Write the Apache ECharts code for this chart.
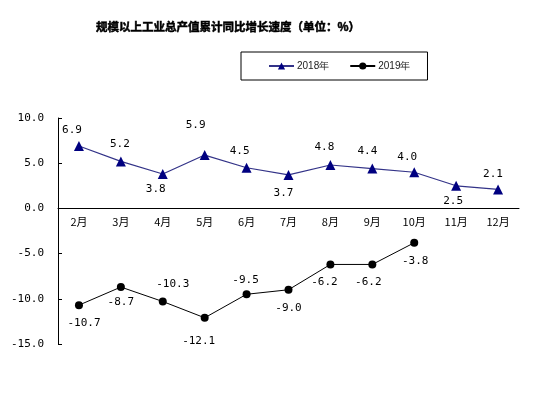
<!DOCTYPE html>
<html><head><meta charset="utf-8">
<script src="https://cdn.jsdelivr.net/npm/echarts@6/dist/echarts.min.js"></script>
<style>html,body{margin:0;padding:0;background:#fff}#c{width:544px;height:394px}</style>
</head><body><div id="c"></div>
<script>
const titleText = '规模以上工业总产值累计同比增长速度（单位：%）';
const categories = ['2月','3月','4月','5月','6月','7月','8月','9月','10月','11月','12月'];
const seriesNames = ['2018年','2019年'];
const values2018 = [6.9,5.2,3.8,5.9,4.5,3.7,4.8,4.4,4.0,2.5,2.1];
const values2019 = [-10.7,-8.7,-10.3,-12.1,-9.5,-9.0,-6.2,-6.2,-3.8];
const yMin = -15, yMax = 10, yStep = 5;

// layout only
const gridTop = 118, gridBottom = 50, chartH = 394;
const labelOffsets2018 = [[-7,-16],[-1,-17],[-7,15],[-9,-30],[-7,-17],[-5,18],[-6,-18],[-5,-17],[-7,-15],[-3,15],[-5,-15]];
const labelOffsets2019 = [[5,18],[0,15],[10,-17],[-6,23],[-1,-14],[0,18],[-6,18],[-4,18],[1,18]];

const gridH = chartH - gridTop - gridBottom;
const zeroFromBottom = (0 - yMin) / (yMax - yMin) * gridH;

const monoFont = 'DejaVu Sans Mono';
function mkData(vals, offs){
  return vals.map((v,i)=>({value:v,label:{show:true,position:'inside',offset:offs[i],formatter:v.toFixed(1),color:'#000',fontFamily:monoFont,fontSize:11}}));
}
const chart = echarts.init(document.getElementById('c'), null, {renderer:'canvas'});
chart.setOption({
  animation:false,
  backgroundColor:'#fff',
  title:{text:titleText,left:91,top:16,textStyle:{fontFamily:'Noto Sans CJK SC',fontWeight:'bold',fontSize:11.5,color:'#000',textBorderColor:'#000',textBorderWidth:0.5}},
  legend:{left:241,top:52,padding:[9,17,9,27],itemGap:20,itemWidth:25,itemHeight:9,
    borderColor:'#000',borderWidth:1,textStyle:{fontSize:10,color:'#222',fontFamily:'Liberation Sans',padding:[0,0,0,-2]},data:seriesNames},
  grid:{left:58,right:25,top:gridTop,bottom:gridBottom,containLabel:false},
  xAxis:{type:'category',data:categories,boundaryGap:true,position:'bottom',offset:-zeroFromBottom,
    axisLine:{onZero:false,lineStyle:{color:'#000',width:1}},
    axisTick:{inside:true,length:4,lineStyle:{color:'#000'}},
    axisLabel:{margin:8,color:'#000',fontSize:11,fontFamily:'Noto Sans CJK SC'}},
  yAxis:{type:'value',min:yMin,max:yMax,interval:yStep,splitLine:{show:false},
    axisLine:{show:true,lineStyle:{color:'#000',width:1}},
    axisTick:{show:true,inside:true,length:4,lineStyle:{color:'#000'}},
    axisLabel:{margin:14,color:'#000',fontSize:11,fontFamily:monoFont,formatter:v=>v.toFixed(1)}},
  series:[
    {name:seriesNames[0],type:'line',data:mkData(values2018,labelOffsets2018),symbol:'triangle',symbolSize:10,
      itemStyle:{color:'#000080'},lineStyle:{color:'#333388',width:1.2}},
    {name:seriesNames[1],type:'line',data:mkData(values2019,labelOffsets2019),symbol:'circle',symbolSize:8,
      itemStyle:{color:'#000'},lineStyle:{color:'#000',width:1}}
  ]
});
</script></body></html>
